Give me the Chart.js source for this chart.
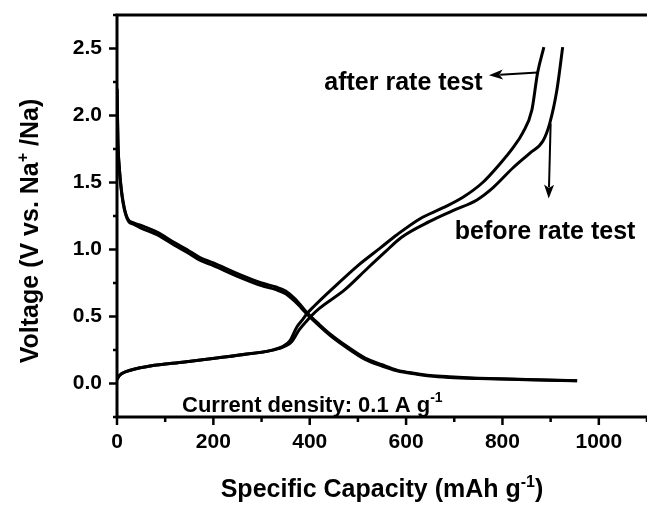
<!DOCTYPE html>
<html>
<head>
<meta charset="utf-8">
<script src="https://cdn.jsdelivr.net/npm/chart.js@4.4.1/dist/chart.umd.min.js"></script>
<style>
  html, body { margin: 0; padding: 0; background: #fff; }
  #wrap { width: 647px; height: 506px; }
</style>
</head>
<body>
<div id="wrap"><canvas id="capChart" width="647" height="506"></canvas></div>
<script>
// discharge curves (capacity mAh/g, voltage V)
var dischargeX = [0, 1, 2, 5, 9, 13, 18, 24, 33, 50, 83, 120, 145, 172, 200, 250, 300, 330, 350, 370, 394, 420, 442, 480, 515, 550, 581, 620, 650, 690, 750, 850, 955];
var dischargeBefore = [2.2, 2.0, 1.8, 1.6, 1.45, 1.35, 1.27, 1.22, 1.2, 1.18, 1.13, 1.05, 1.0, 0.94, 0.9, 0.82, 0.75, 0.72, 0.69, 0.63, 0.53, 0.44, 0.37, 0.27, 0.19, 0.14, 0.1, 0.075, 0.06, 0.05, 0.04, 0.03, 0.02];
var dischargeAfter = [2.2, 2.0, 1.8, 1.6, 1.44, 1.34, 1.26, 1.21, 1.19, 1.16, 1.11, 1.03, 0.98, 0.92, 0.88, 0.8, 0.73, 0.7, 0.67, 0.61, 0.52, 0.43, 0.36, 0.26, 0.18, 0.13, 0.095, 0.07, 0.055, 0.045, 0.037, 0.028, 0.02];

// charge curves
var chargeAfterX = [0, 5, 20, 69, 140, 207, 270, 332, 359, 373, 386, 394, 410, 448, 500, 546, 581, 629, 676, 718, 759, 795, 822, 842, 861, 873, 886];
var chargeAfterY = [0.03, 0.06, 0.09, 0.13, 0.16, 0.19, 0.22, 0.26, 0.32, 0.42, 0.48, 0.52, 0.58, 0.71, 0.88, 1.01, 1.11, 1.23, 1.31, 1.39, 1.5, 1.64, 1.76, 1.87, 2.04, 2.32, 2.51];
var chargeBeforeX = [0, 5, 20, 69, 140, 207, 270, 335, 362, 378, 392, 402, 420, 473, 520, 556, 590, 649, 697, 747, 780, 822, 857, 884, 898, 913, 925];
var chargeBeforeY = [0.03, 0.06, 0.09, 0.13, 0.16, 0.19, 0.22, 0.26, 0.31, 0.4, 0.46, 0.5, 0.56, 0.7, 0.86, 0.98, 1.09, 1.21, 1.29, 1.37, 1.46, 1.61, 1.72, 1.81, 1.94, 2.19, 2.51];

var xTickLabels = [0, 200, 400, 600, 800, 1000];
var yTickLabels = [0, 0.5, 1, 1.5, 2, 2.5];

function toPoints(xs, ys) {
    return xs.map(function (x, i) { return { x: x, y: ys[i] }; });
}

function series(xs, ys) {
    return {
        data: toPoints(xs, ys),
        borderColor: '#000',
        borderWidth: 3,
        pointRadius: 0,
        fill: false,
        cubicInterpolationMode: 'monotone'
    };
}

// text with superscripts, parts = [[text, isSup], ...]
function drawRich(ctx, parts, x, y, size, align) {
    var total = 0;
    parts.forEach(function (p) {
        ctx.font = 'bold ' + (p[1] ? Math.round(size * 0.62) : size) + 'px "Liberation Sans", Arial, sans-serif';
        total += ctx.measureText(p[0]).width;
    });
    var cx = align === 'center' ? x - total / 2 : (align === 'right' ? x - total : x);
    parts.forEach(function (p) {
        ctx.font = 'bold ' + (p[1] ? Math.round(size * 0.62) : size) + 'px "Liberation Sans", Arial, sans-serif';
        ctx.fillText(p[0], cx, p[1] ? y - size * 0.42 : y);
        cx += ctx.measureText(p[0]).width;
    });
}

function arrow(ctx, x1, y1, x2, y2) {
    var a = Math.atan2(y2 - y1, x2 - x1), len = 14, w = 5;
    ctx.beginPath();
    ctx.moveTo(x1, y1);
    ctx.lineTo(x2 - Math.cos(a) * len * 0.8, y2 - Math.sin(a) * len * 0.8);
    ctx.lineWidth = 2;
    ctx.stroke();
    ctx.beginPath();
    ctx.moveTo(x2, y2);
    ctx.lineTo(x2 - Math.cos(a) * len + Math.sin(a) * w, y2 - Math.sin(a) * len - Math.cos(a) * w);
    ctx.lineTo(x2 - Math.cos(a) * len * 0.75, y2 - Math.sin(a) * len * 0.75);
    ctx.lineTo(x2 - Math.cos(a) * len - Math.sin(a) * w, y2 - Math.sin(a) * len + Math.cos(a) * w);
    ctx.closePath();
    ctx.fill();
}

var framePlugin = {
    id: 'frame',
    afterDraw: function (chart) {
        var ctx = chart.ctx, a = chart.chartArea;
        var xs = chart.scales.x, ys = chart.scales.y;
        ctx.save();
        ctx.strokeStyle = '#000';
        ctx.fillStyle = '#000';
        ctx.lineCap = 'square';

        // frame (top, left, bottom)
        ctx.lineWidth = 3;
        ctx.beginPath();
        ctx.moveTo(a.right + 2, a.top);
        ctx.lineTo(a.left, a.top);
        ctx.lineTo(a.left, a.bottom);
        ctx.lineTo(a.right + 2, a.bottom);
        ctx.stroke();

        // ticks
        ctx.lineWidth = 2.5;
        ctx.lineCap = 'butt';
        for (var v = 0; v <= 1100; v += 100) {
            var px = xs.getPixelForValue(v);
            var major = xTickLabels.indexOf(v) >= 0;
            ctx.beginPath();
            ctx.moveTo(px, a.bottom);
            ctx.lineTo(px, a.bottom + (major ? 8 : 5));
            ctx.stroke();
        }
        for (var k = -1; k <= 11; k++) {
            var val = k * 0.25;
            var py = ys.getPixelForValue(val);
            var maj = yTickLabels.indexOf(val) >= 0;
            ctx.beginPath();
            ctx.moveTo(a.left, py);
            ctx.lineTo(a.left - (maj ? 8 : 4), py);
            ctx.stroke();
        }

        // axis titles
        ctx.textBaseline = 'alphabetic';
        drawRich(ctx, [['Specific Capacity (mAh g', false], ['-1', true], [')', false]],
            (a.left + a.right) / 2, 497, 25, 'center');
        ctx.save();
        ctx.translate(38, 231);
        ctx.rotate(-Math.PI / 2);
        drawRich(ctx, [['Voltage (V vs. Na', false], ['+', true], [' /Na)', false]], 0, 0, 25, 'center');
        ctx.restore();

        // annotations
        drawRich(ctx, [['Current density: 0.1 A g', false], ['-1', true]],
            xs.getPixelForValue(135), ys.getPixelForValue(-0.21), 22, 'left');
        drawRich(ctx, [['after rate test', false]],
            xs.getPixelForValue(759), ys.getPixelForValue(2.19), 25, 'right');
        drawRich(ctx, [['before rate test', false]],
            xs.getPixelForValue(701), ys.getPixelForValue(1.075), 25, 'left');
        arrow(ctx, xs.getPixelForValue(873), ys.getPixelForValue(2.32),
            xs.getPixelForValue(772), ys.getPixelForValue(2.30));
        arrow(ctx, xs.getPixelForValue(900), ys.getPixelForValue(1.94),
            xs.getPixelForValue(896), ys.getPixelForValue(1.38));
        ctx.restore();
    }
};

var tickFont = { family: '"Liberation Sans", Arial, sans-serif', size: 21, weight: 'bold' };

var ctx = document.getElementById('capChart').getContext('2d');
var capChart = new Chart(ctx, {
    type: 'line',
    data: {
        datasets: [
            series(dischargeX, dischargeBefore),
            series(dischargeX, dischargeAfter),
            series(chargeBeforeX, chargeBeforeY),
            series(chargeAfterX, chargeAfterY)
        ]
    },
    options: {
        responsive: false,
        animation: false,
        layout: { padding: { top: 15, right: 0, left: 0, bottom: 0 } },
        plugins: { legend: { display: false }, tooltip: { enabled: false } },
        scales: {
            x: {
                type: 'linear',
                min: 0,
                max: 1100,
                grid: { display: false, drawTicks: false },
                border: { display: false },
                afterFit: function (s) {
                    s.height = 89;
                    s.paddingLeft = 0; s.paddingRight = 0;
                },
                ticks: {
                    stepSize: 100,
                    autoSkip: false,
                    maxRotation: 0,
                    padding: 13,
                    color: '#000',
                    font: tickFont,
                    callback: function (v) { return xTickLabels.indexOf(v) >= 0 ? String(v) : ''; }
                }
            },
            y: {
                type: 'linear',
                min: -0.25,
                max: 2.75,
                grid: { display: false, drawTicks: false },
                border: { display: false },
                afterFit: function (s) {
                    s.width = 117;
                    s.paddingTop = 0; s.paddingBottom = 0;
                },
                ticks: {
                    stepSize: 0.25,
                    autoSkip: false,
                    padding: 15,
                    color: '#000',
                    font: tickFont,
                    callback: function (v) {
                        var r = Math.round(v * 100) / 100;
                        return yTickLabels.indexOf(r) >= 0 ? r.toFixed(1) : '';
                    }
                }
            }
        }
    },
    plugins: [framePlugin]
});
</script>
</body>
</html>
